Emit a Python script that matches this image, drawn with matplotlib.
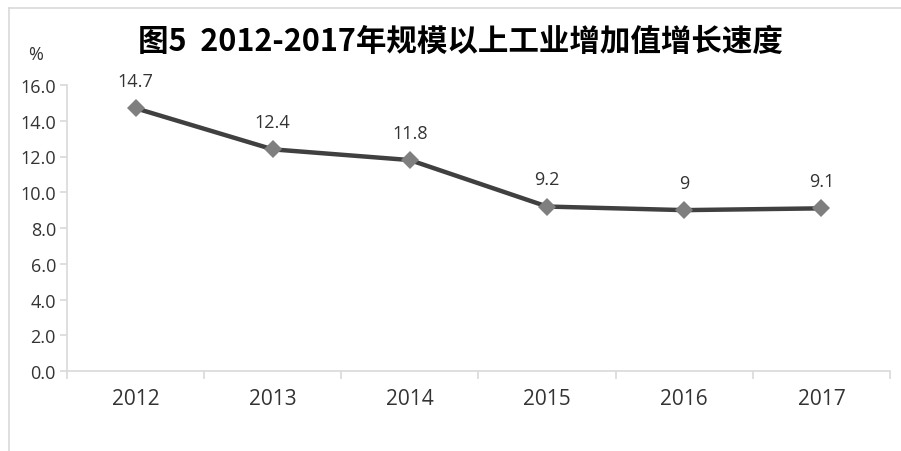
import matplotlib

matplotlib.use('Agg')
import matplotlib.pyplot as plt
from matplotlib.lines import Line2D

plt.rcParams['font.family'] = ['Open Sans', 'Noto Sans CJK SC', 'DejaVu Sans']

# data
years = ['2012', '2013', '2014', '2015', '2016', '2017']
growth = [14.7, 12.4, 11.8, 9.2, 9.0, 9.1]
growth_labels = ['14.7', '12.4', '11.8', '9.2', '9', '9.1']
y_ticks = [0, 2, 4, 6, 8, 10, 12, 14, 16]

W, H = 901, 452
fig = plt.figure(figsize=(W / 100, H / 100), dpi=100)

# outer frame (top + left only, rest is cut off)
grey = '#d9d9d9'
fig.add_artist(Line2D([9 / W, 1], [1 - 9 / H, 1 - 9 / H], color=grey, lw=1.2, transform=fig.transFigure))
fig.add_artist(Line2D([9 / W, 9 / W], [0, 1 - 9 / H], color=grey, lw=1.2, transform=fig.transFigure))

ax = fig.add_axes([67 / W, 80 / H, (890 - 67) / W, (372 - 86) / H])
x = list(range(len(years)))
ax.plot(x, growth, color='#404040', lw=3.2, marker='D', ms=9.5,
        markerfacecolor='#7f7f7f', markeredgewidth=0, zorder=3)

for xi, yi, lab in zip(x, growth, growth_labels):
    ax.annotate(lab, (xi, yi), xytext=(0, 13), textcoords='offset points',
                ha='center', va='bottom', fontsize=13, color='#333333')

ax.set_xlim(-0.5, len(years) - 0.5)
ax.set_ylim(0, 16)
ax.set_yticks(y_ticks)
ax.set_yticklabels([f'{v:.1f}' for v in y_ticks], fontsize=13, color='#333333')
ax.set_xticks(x)
ax.set_xticklabels(years, fontsize=15, color='#333333')
ax.tick_params(axis='x', length=0, pad=12)
ax.set_xticks([i - 0.5 for i in range(len(years) + 1)], minor=True)
ax.tick_params(axis='x', which='minor', length=6, color=grey, width=1.2)
ax.tick_params(axis='y', length=5, color=grey, width=1.2, pad=3)

for side in ['top', 'right']:
    ax.spines[side].set_visible(False)
for side in ['left', 'bottom']:
    ax.spines[side].set_color(grey)
    ax.spines[side].set_linewidth(1.2)

fig.text(28 / W, 1 - 55 / H, '%', fontsize=13, color='#333333', ha='left', va='center')
fig.text(460 / W, 1 - 42 / H, '图5  2012-2017年规模以上工业增加值增长速度',
         fontsize=22, fontweight='bold', ha='center', va='center', color='black',
         family=['Noto Sans CJK SC', 'DejaVu Sans'])

fig.savefig('out.png', dpi=100)
